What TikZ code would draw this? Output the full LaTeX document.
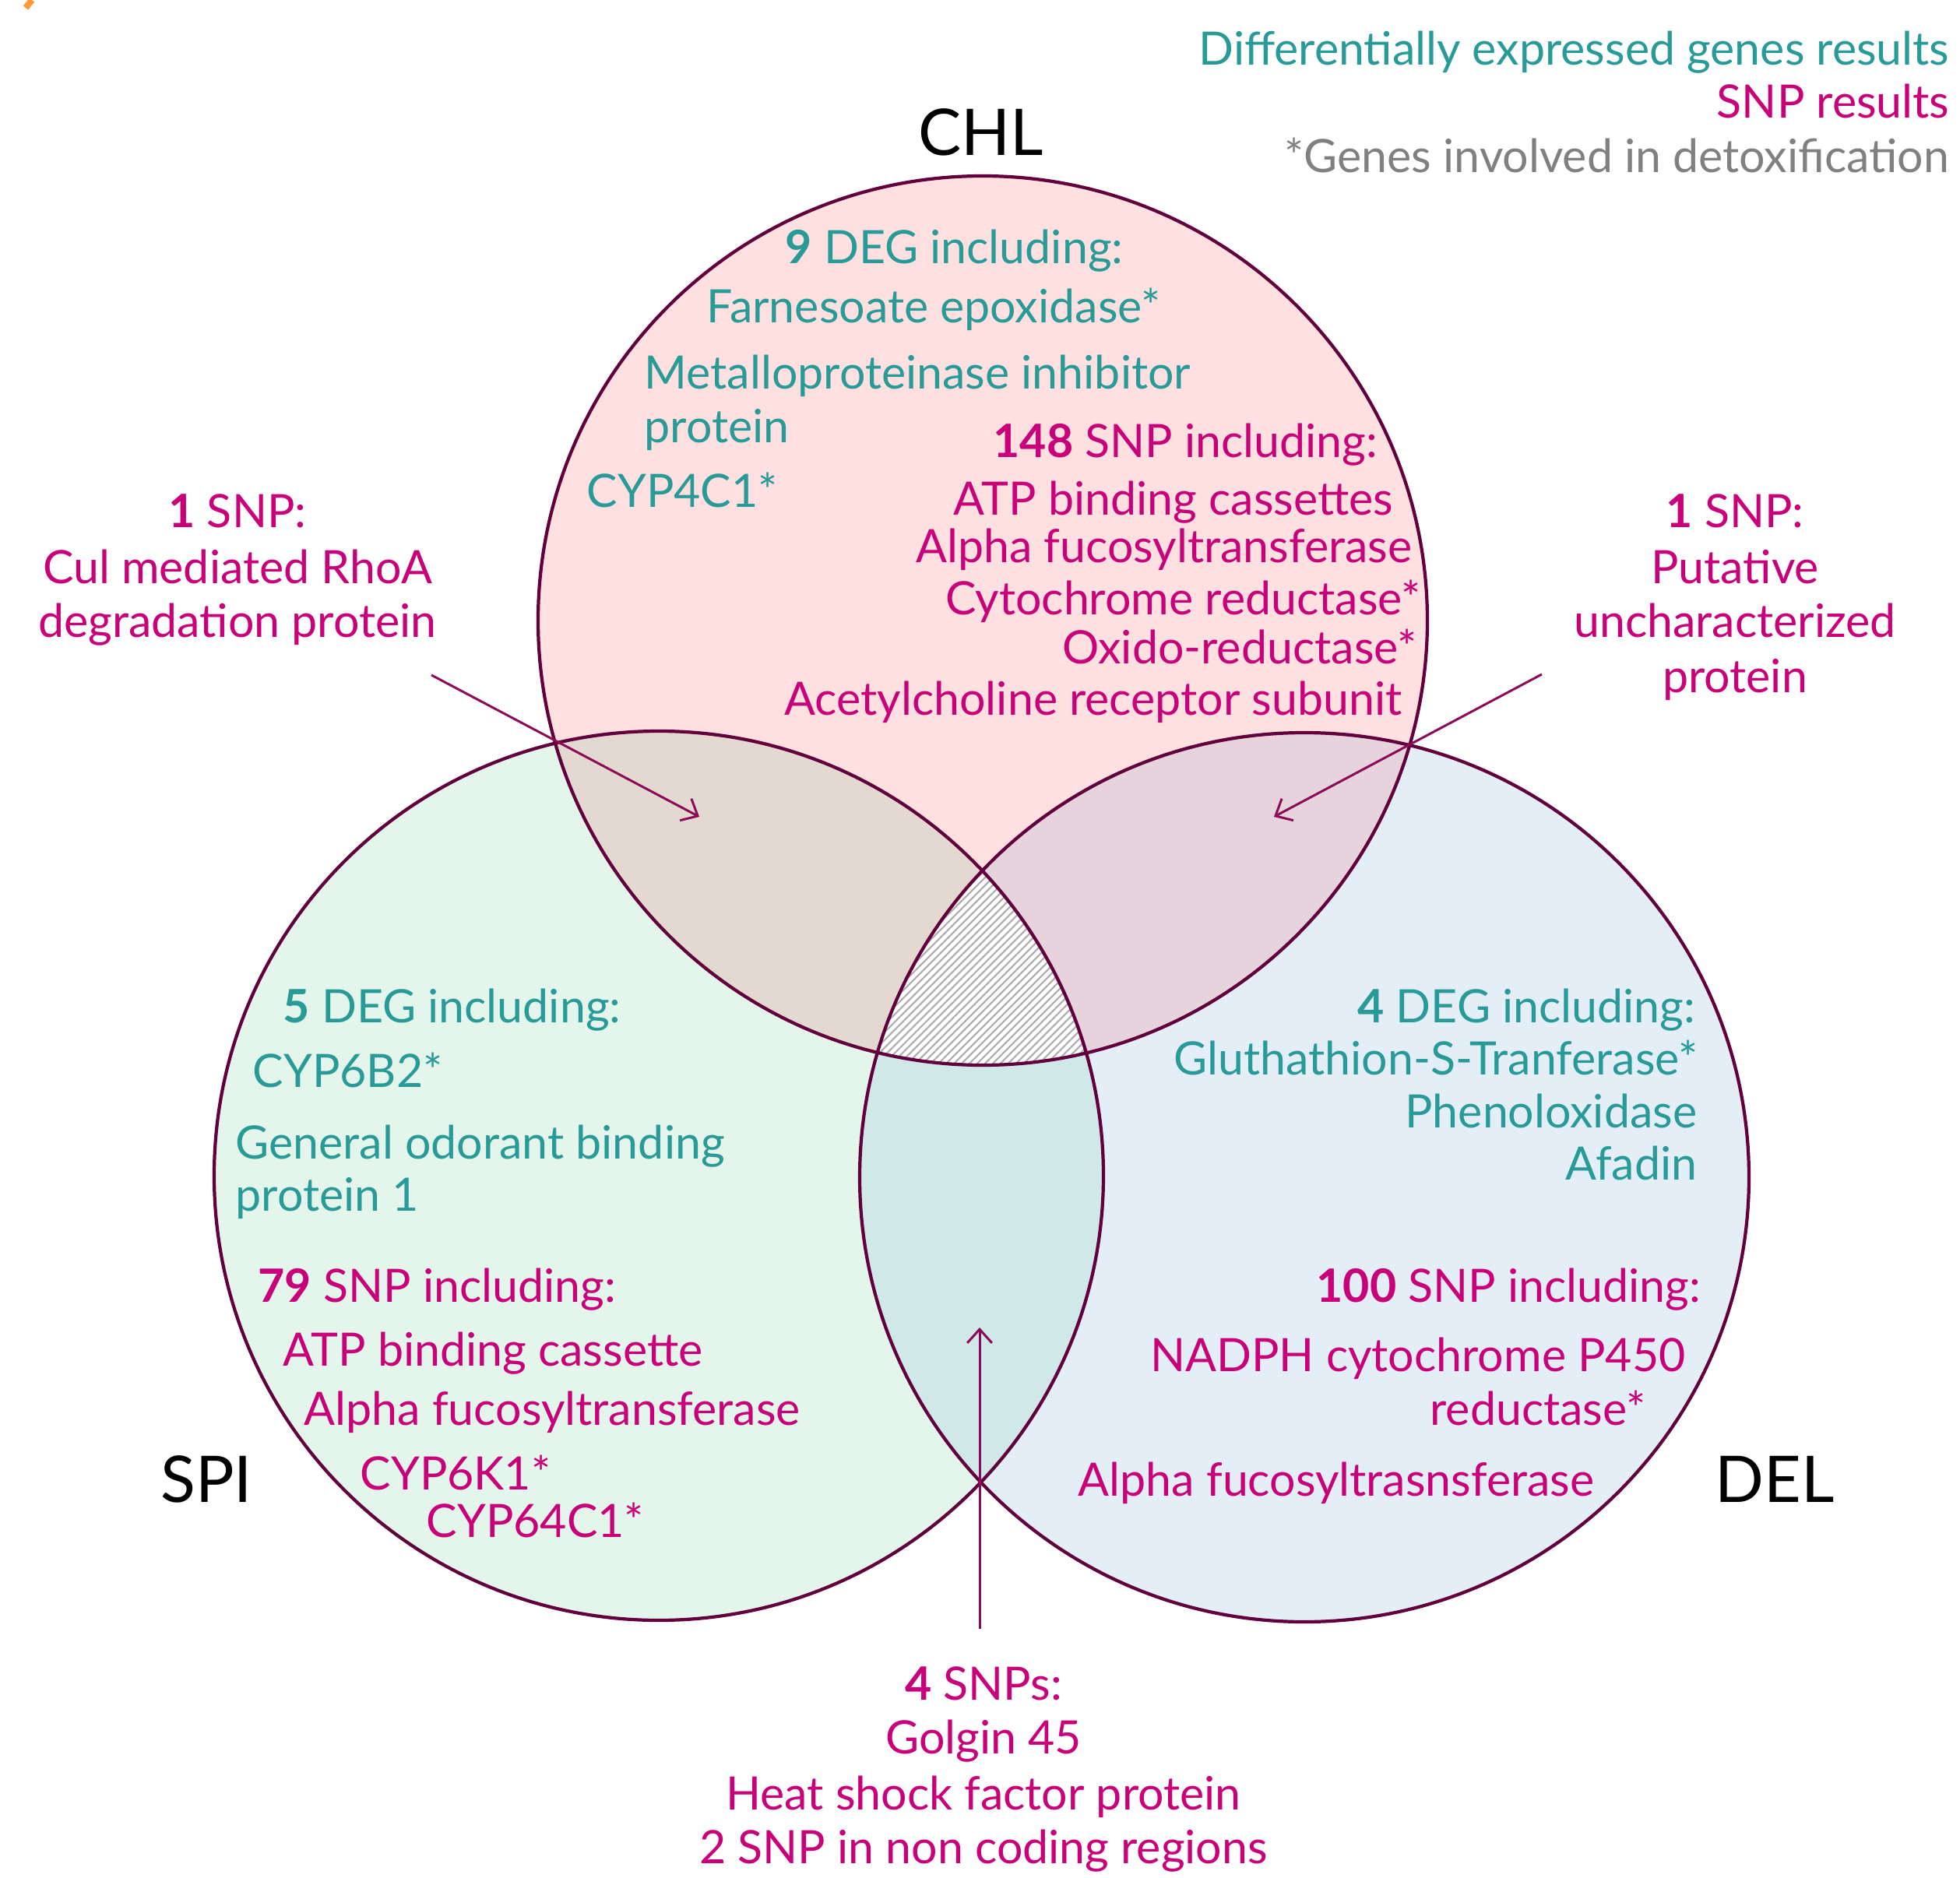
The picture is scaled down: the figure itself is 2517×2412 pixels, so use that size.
\documentclass[tikz,border=0pt]{standalone}
\usepackage{fontspec}
\setmainfont{Lato}
\usepackage{tikz}
\usetikzlibrary{arrows.meta,patterns.meta,positioning}
\definecolor{degcol}{RGB}{40,155,152}
\definecolor{snpcol}{RGB}{200,0,122}
\definecolor{notecol}{RGB}{128,128,128}
\definecolor{rimcol}{RGB}{98,0,62}
\definecolor{pointcol}{RGB}{140,10,88}
\definecolor{chlfill}{RGB}{253,224,223}
\definecolor{spifill}{RGB}{228,245,236}
\definecolor{delfill}{RGB}{228,238,247}
\definecolor{chlspi}{RGB}{228,217,209}
\definecolor{chldel}{RGB}{230,211,219}
\definecolor{spidel}{RGB}{208,232,231}
\definecolor{hatchcol}{RGB}{172,172,172}
\tikzset{rim/.style={draw=rimcol, line width=1.2pt},
         pointer/.style={draw=pointcol, line width=0.85pt, -{Straight Barb[length=5pt,width=9pt]}},
         deg/.style={text=degcol},
         snp/.style={text=snpcol},
         note/.style={text=notecol},
         setname/.style={font=\fontsize{23.5}{27}\selectfont}}

\begin{document}
\begin{tikzpicture}[x=0.01cm, y=-0.01cm,
    every node/.style={inner sep=0pt, text height=11pt, text depth=0pt, font=\fontsize{16.8}{20}\selectfont}]
    \useasboundingbox (0,0) rectangle (2517,2412);
    \draw[draw={rgb,255:red,255;green,153;blue,51}, line width=2.3pt] (33,10) -- (41,0);

    % the three sets
    \coordinate (chlC) at (1262,797);
    \coordinate (spiC) at (846,1510);
    \coordinate (delC) at (1675,1512);
    \fill[chlfill] (chlC) circle[radius=571];
    \fill[spifill] (spiC) circle[radius=571];
    \fill[delfill] (delC) circle[radius=571];
    \begin{scope}
        \clip (chlC) circle[radius=571];
        \fill[chlspi] (spiC) circle[radius=571];
        \fill[chldel] (delC) circle[radius=571];
    \end{scope}
    \begin{scope}
        \clip (spiC) circle[radius=571];
        \fill[spidel] (delC) circle[radius=571];
        \clip (chlC) circle[radius=571];
        \fill[white] (delC) circle[radius=571];
        \fill[pattern={Lines[angle=45,distance=2pt,line width=0.6pt]}, pattern color=hatchcol] (delC) circle[radius=571];
    \end{scope}
    \path[rim] (chlC) circle[radius=571] (spiC) circle[radius=571] (delC) circle[radius=571];

    % key
    \node[deg, anchor=east] (keyDeg) at (2504,64) {Differentially expressed genes results};
    \node[snp, anchor=east] (keySnp) at (2504,132) {SNP results};
    \node[note, anchor=east] (keyDet) at (2504,202) {*Genes involved in detoxification};

    \node[setname] (chlName) at (1260,180) {CHL};
    \node[setname] (spiName) at (265,1910) {SPI};
    \node[setname] (delName) at (2279,1910) {DEL};

    % CHL
    \node[deg, anchor=west] (chlDeg) at (1008,319) {\textbf{9} DEG including:};
    \node[deg, anchor=west] (chlDa) at (907,395) {Farnesoate epoxidase*};
    \node[deg, anchor=west] (chlDb) at (827,480) {Metalloproteinase inhibitor};
    \node[deg, anchor=west] (chlDc) at (827,549) {protein};
    \node[deg, anchor=west] (chlDd) at (753,632) {CYP4C1*};
    \node[snp, anchor=east] (chlSnp) at (1770,568) {\textbf{148} SNP including:};
    \node[snp, anchor=east] (chlSa) at (1790,642) {ATP binding cassettes};
    \node[snp, anchor=east] (chlSb) at (1814,703) {Alpha fucosyltransferase};
    \node[snp, anchor=east] (chlSc) at (1825,770) {Cytochrome reductase*};
    \node[snp, anchor=east] (chlSd) at (1820,833) {Oxido-reductase*};
    \node[snp, anchor=east] (chlSe) at (1801,899) {Acetylcholine receptor subunit};

    % SPI
    \node[deg, anchor=west] (spiDeg) at (363,1294) {\textbf{5} DEG including:};
    \node[deg, anchor=west] (spiDa) at (324,1377) {CYP6B2*};
    \node[deg, anchor=west] (spiDb) at (302,1469) {General odorant binding};
    \node[deg, anchor=west] (spiDc) at (302,1536) {protein 1};
    \node[snp, anchor=west] (spiSnp) at (331,1653) {\textbf{79} SNP including:};
    \node[snp, anchor=west] (spiSa) at (363,1735) {ATP binding cassette};
    \node[snp, anchor=west] (spiSb) at (390,1811) {Alpha fucosyltransferase};
    \node[snp, anchor=west] (spiSc) at (462,1894) {CYP6K1*};
    \node[snp, anchor=west] (spiSd) at (547,1955) {CYP64C1*};

    % DEL
    \node[deg, anchor=east] (delDeg) at (2178,1294) {\textbf{4} DEG including:};
    \node[deg, anchor=east] (delDa) at (2181,1361) {Gluthathion-S-Tranferase*};
    \node[deg, anchor=east] (delDb) at (2180,1429) {Phenoloxidase};
    \node[deg, anchor=east] (delDc) at (2180,1496) {Afadin};
    \node[snp, anchor=east] (delSnp) at (2185,1653) {\textbf{100} SNP including:};
    \node[snp, anchor=east] (delSa) at (2165,1742) {NADPH cytochrome P450};
    \node[snp, anchor=east] (delSb) at (2114,1811) {reductase*};
    \node[snp, anchor=east] (delSc) at (2048,1902) {Alpha fucosyltrasnsferase};

    % overlaps
    \node[snp] (csNum) at (305,658) {\textbf{1} SNP:};
    \node[snp] (csA) at (305,730) {Cul mediated RhoA};
    \node[snp] (csB) at (305,799) {degradation protein};
    \node[snp] (cdNum) at (2228,658) {\textbf{1} SNP:};
    \node[snp] (cdA) at (2228,730) {Putative};
    \node[snp] (cdB) at (2228,799) {uncharacterized};
    \node[snp] (cdC) at (2228,870) {protein};
    \node[snp] (sdNum) at (1263,2164) {\textbf{4} SNPs:};
    \node[snp] (sdA) at (1263,2233) {Golgin 45};
    \node[snp] (sdB) at (1263,2305) {Heat shock factor protein};
    \node[snp] (sdC) at (1263,2374) {2 SNP in non coding regions};

    \coordinate (csFrom) at (554,867);
    \coordinate (csTo) at (898,1049);
    \coordinate (cdFrom) at (1980,866);
    \coordinate (cdTo) at (1636,1049);
    \coordinate (sdFrom) at (1258,2092);
    \coordinate (sdTo) at (1258,1705);
    \draw[pointer] (csFrom) -- (csTo);
    \draw[pointer] (cdFrom) -- (cdTo);
    \draw[pointer] (sdFrom) -- (sdTo);
\end{tikzpicture}
\end{document}
